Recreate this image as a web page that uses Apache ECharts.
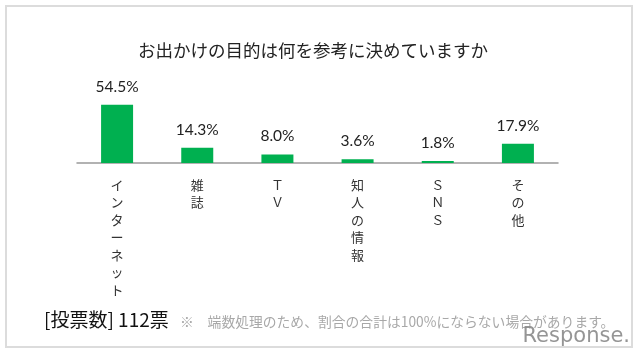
<!DOCTYPE html>
<html>
<head>
<meta charset="utf-8">
<script src="https://cdn.jsdelivr.net/npm/echarts@6/dist/echarts.min.js"></script>
<style>
html,body{margin:0;padding:0;background:#fff;}
#c{width:640px;height:355px;}
</style>
</head>
<body>
<div id="c"></div>
<script>
const title = 'お出かけの目的は何を参考に決めていますか';
const categories = ['インターネット', '雑誌', 'ＴＶ', '知人の情報', 'ＳＮＳ', 'その他'];
const values = [54.5, 14.3, 8.0, 3.6, 1.8, 17.9];
const voteText = '[投票数] 112票';
const noteText = '※　端数処理のため、割合の合計は100%にならない場合があります。';
const logoText = 'Response.';

const chart = echarts.init(document.getElementById('c'), null, {renderer: 'canvas'});
const cjk = '"Noto Sans CJK JP", "Noto Sans", sans-serif';
chart.setOption({
  backgroundColor: '#ffffff',
  animation: false,
  title: {
    text: title,
    left: 308,
    top: 37,
    textAlign: 'center',
    textStyle: {fontFamily: cjk, fontSize: 17.5, fontWeight: 'normal', color: '#222'}
  },
  grid: {left: 77, right: 82, top: 98.8, bottom: 192},
  xAxis: {
    type: 'category',
    data: categories,
    axisLine: {show: true, lineStyle: {color: '#999', width: 1.5}},
    axisTick: {show: false},
    axisLabel: {
      interval: 0,
      margin: 13,
      fontFamily: cjk,
      fontSize: 13,
      color: '#333',
      lineHeight: 17.5,
      formatter: v => v.split('').join('\n')
    }
  },
  yAxis: {
    type: 'value',
    min: 0,
    max: 60,
    show: false,
    splitLine: {show: false}
  },
  series: [{
    type: 'bar',
    data: values,
    barWidth: 32,
    itemStyle: {color: '#00B050'},
    label: {
      show: true,
      position: 'top',
      distance: 10,
      fontFamily: 'Lato, "Open Sans", sans-serif',
      fontSize: 15.5,
      color: '#222',
      formatter: p => p.value.toFixed(1) + '%'
    }
  }],
  graphic: [
    {type: 'rect', shape: {x: 6, y: 6, width: 626, height: 341}, style: {fill: 'none', stroke: '#dcdcdc', lineWidth: 2}, z: 0},
    {type: 'text', x: 44, y: 320, style: {text: voteText, font: '19px ' + cjk, fill: '#111', verticalAlign: 'middle'}},
    {type: 'text', x: 180, y: 322, style: {text: noteText, font: '13.8px ' + cjk, fill: '#a8a8a8', verticalAlign: 'middle'}},
    {type: 'text', x: 630, y: 337, style: {text: logoText, font: '21px "DejaVu Sans", sans-serif', fill: '#8a8a8a', align: 'right', verticalAlign: 'middle', opacity: 0.9}}
  ]
});
</script>
</body>
</html>
